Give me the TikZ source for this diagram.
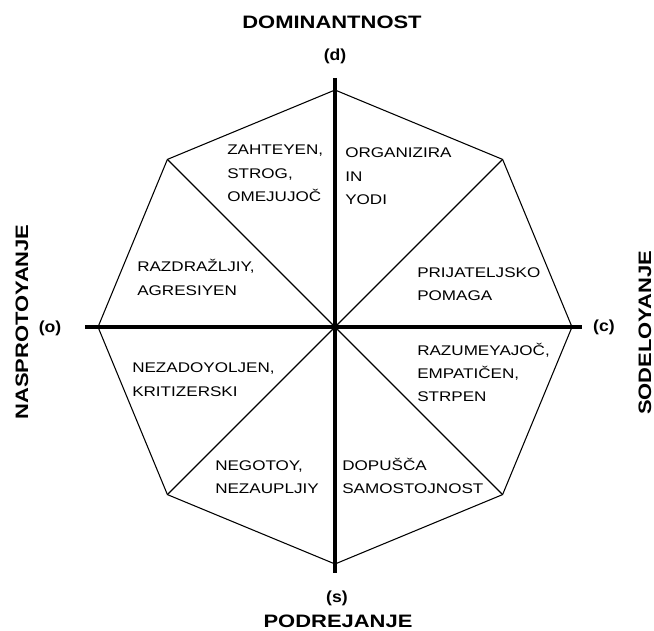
\documentclass[tikz,border=0pt]{standalone}
\usepackage{fontspec}
\setmainfont{Liberation Sans}
\newfontfamily\labfont[FakeStretch=1.22]{Liberation Sans}
\newfontfamily\titfont[FakeStretch=1.22]{Liberation Sans Bold}
\newfontfamily\axfont[FakeStretch=1.1]{Liberation Sans Bold}
\begin{document}
\begin{tikzpicture}[x=0.75pt,y=-0.75pt,
  axis/.style={line width=2.3pt},
  edge/.style={line width=0.8pt},
  lab/.style={anchor=base west,inner sep=0pt,font=\labfont\fontsize{10.5}{17.3}\selectfont},
  title/.style={inner sep=0pt,font=\titfont\fontsize{13.5}{16}\selectfont},
  axlab/.style={inner sep=0pt,font=\axfont\fontsize{12}{14}\selectfont}]
\useasboundingbox (0,0) rectangle (654,631);
% octagon vertices
\coordinate (C) at (335,327);
\coordinate (vT) at (335,90);
\coordinate (vTR) at (502.6,159.4);
\coordinate (vR) at (572,327);
\coordinate (vBR) at (502.6,494.6);
\coordinate (vB) at (335,564);
\coordinate (vBL) at (167.4,494.6);
\coordinate (vL) at (98,327);
\coordinate (vTL) at (167.4,159.4);
% axis ends
\coordinate (aT) at (335,78);
\coordinate (aB) at (335,573);
\coordinate (aL) at (85,327);
\coordinate (aR) at (582,327);
% octagon
\draw[edge] (vT) -- (vTR) -- (vR) -- (vBR) -- (vB) -- (vBL) -- (vL) -- (vTL) -- cycle;
% diagonals
\draw[edge] (vTL) -- (vBR);
\draw[edge] (vTR) -- (vBL);
% axes
\draw[axis] (aT) -- (aB);
\draw[axis] (aL) -- (aR);
\fill (C) circle (4);
% titles
\node[title] (tD) at (332,22) {DOMINANTNOST};
\node[axlab] (ld) at (335,56) {(d)};
\node[axlab] (ls) at (337,598) {(s)};
\node[title] (tS) at (338,621) {PODREJANJE};
\node[axlab] (lo) at (50,328) {(o)};
\node[axlab] (lc) at (604,327) {(c)};
\node[title,rotate=90] (tO) at (22,322) {NASPROTOYANJE};
\node[title,rotate=90] (tC) at (645,333) {SODELOYANJE};
% sector labels
\node[lab] (s1) at (227,155) {\begin{tabular}[t]{@{}l@{}}ZAHTEYEN,\\STROG,\\OMEJUJOČ\end{tabular}};
\node[lab] (s2) at (345,158) {\begin{tabular}[t]{@{}l@{}}ORGANIZIRA\\IN\\YODI\end{tabular}};
\node[lab] (s3) at (137,272) {\begin{tabular}[t]{@{}l@{}}RAZDRAŽLJIY,\\AGRESIYEN\end{tabular}};
\node[lab] (s4) at (417,277) {\begin{tabular}[t]{@{}l@{}}PRIJATELJSKO\\POMAGA\end{tabular}};
\node[lab] (s5) at (132,373) {\begin{tabular}[t]{@{}l@{}}NEZADOYOLJEN,\\KRITIZERSKI\end{tabular}};
\node[lab] (s6) at (417,355) {\begin{tabular}[t]{@{}l@{}}RAZUMEYAJOČ,\\EMPATIČEN,\\STRPEN\end{tabular}};
\node[lab] (s7) at (215,470) {\begin{tabular}[t]{@{}l@{}}NEGOTOY,\\NEZAUPLJIY\end{tabular}};
\node[lab] (s8) at (342,470) {\begin{tabular}[t]{@{}l@{}}DOPUŠČA\\SAMOSTOJNOST\end{tabular}};
\end{tikzpicture}
\end{document}
